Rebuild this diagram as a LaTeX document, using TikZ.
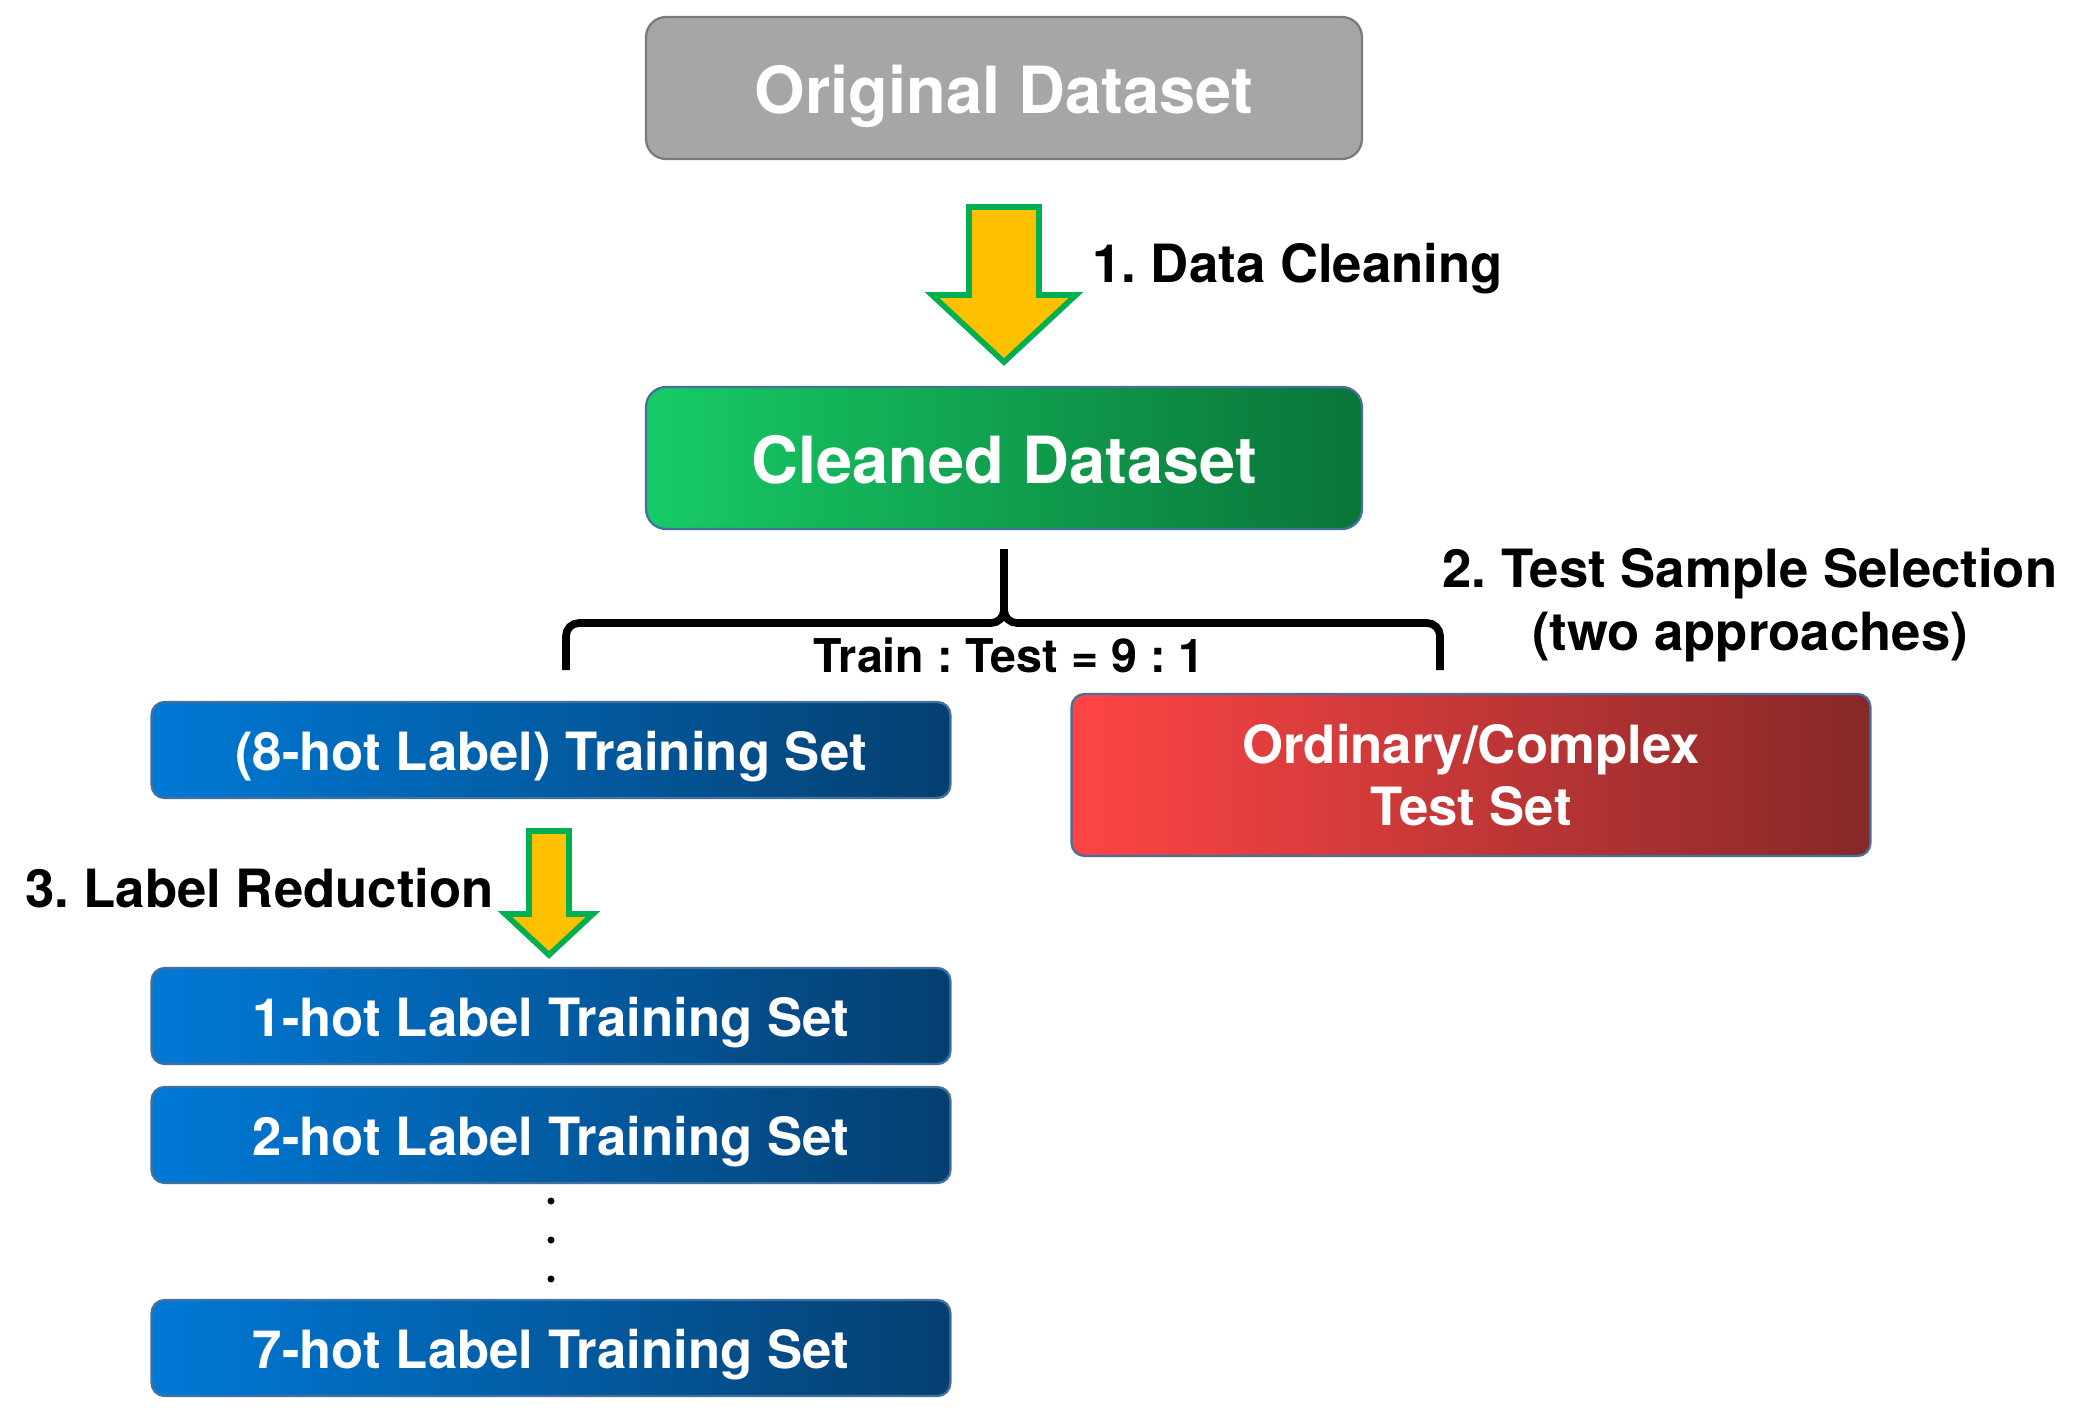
\documentclass[tikz,border=0pt]{standalone}
\usepackage{fontspec}
\setmainfont{TeX Gyre Heros}
\usetikzlibrary{positioning,calc}
\definecolor{grayfill}{HTML}{A6A6A6}
\definecolor{grayedge}{HTML}{7A7A7A}
\definecolor{boxedge}{HTML}{41719C}
\definecolor{greenL}{HTML}{17CB66}
\definecolor{greenR}{HTML}{0A7438}
\definecolor{blueL}{HTML}{0079D6}
\definecolor{blueR}{HTML}{053F70}
\definecolor{redL}{HTML}{FF4545}
\definecolor{redR}{HTML}{862828}
\definecolor{arrowfill}{HTML}{FFC000}
\definecolor{arrowedge}{HTML}{00B050}
\newcommand{\titlefont}{\fontsize{37}{44}\selectfont\bfseries}
\newcommand{\setfont}{\fontsize{30}{35.5}\selectfont\bfseries}
\newcommand{\ratiofont}{\fontsize{26.5}{32}\selectfont\bfseries}
\frenchspacing

\begin{document}
\begin{tikzpicture}[x=0.02cm,y=-0.02cm,
  box/.style={rectangle,rounded corners=0.26cm,draw=boxedge,line width=1.3pt,
              text=white,align=center,inner sep=0pt},
  databox/.style={box,minimum width=14.32cm,minimum height=2.84cm,
                  rounded corners=0.4cm,font=\titlefont,
                  text height=29.5pt,text depth=0pt},
  trainbox/.style={box,left color=blueL,right color=blueR,
                   minimum width=15.98cm,minimum height=1.92cm,font=\setfont,
                   text height=23.8pt,text depth=0pt},
  blockarrow/.style={fill=arrowfill,draw=arrowedge,line width=3.2pt,line join=miter},
  brace/.style={line width=4.4pt,rounded corners=0.26cm},
  steplbl/.style={font=\setfont,align=center,inner sep=0pt}]
\useasboundingbox (0,0) rectangle (2076,1410);
%% -- Dataset boxes --------------------------------------------------------
\node[databox,draw=grayedge,fill=grayfill](orig) at (1004,88) {Original Dataset};
\node[databox,left color=greenL,right color=greenR](clean) at (1004,458) {Cleaned Dataset};
%% -- Step 1: block arrow between the two dataset boxes ------------------
\draw[blockarrow] (969,207) -- (1039,207) -- (1039,295) -- (1076,295)
  -- (1004,362) -- (932,295) -- (969,295) -- cycle;
\node[steplbl,anchor=west](clean-lbl) at (1092,269) {1. Data Cleaning};
%% -- Split brace ---------------------------------------------------------
\draw[brace] (566,670) -- (566,623) -- (1004,623) -- (1004,549);
\draw[brace] (1440,670) -- (1440,623) -- (1004,623) -- (1004,549);
\node[font=\ratiofont,inner sep=0pt](ratio) at (1009,655) {Train : Test = 9 : 1};
\node[steplbl](select-lbl) at (1750,605) {2. Test Sample Selection\\(two approaches)};
%% -- Train / test sets ---------------------------------------------------
\node[trainbox](train8) at (551,750) {(8-hot Label) Training Set};
\node[box,left color=redL,right color=redR,minimum width=15.98cm,
      minimum height=3.24cm,font=\setfont](test) at (1471,775)
  {Ordinary/Complex\\Test Set};
%% -- Step 3: label reduction ---------------------------------------------
\draw[blockarrow] (529,831) -- (569,831) -- (569,914) -- (593,914)
  -- (549,955) -- (505,914) -- (529,914) -- cycle;
\node[steplbl,anchor=east](reduce-lbl) at (494,888) {3. Label Reduction};
\node[trainbox](train1) at (551,1016) {1-hot Label Training Set};
\node[trainbox](train2) at (551,1135) {2-hot Label Training Set};
\foreach \y in {1201,1240,1279}
  \fill (551,\y) circle[radius=0.07cm];
\node[trainbox](train7) at (551,1348) {7-hot Label Training Set};
\end{tikzpicture}
\end{document}
